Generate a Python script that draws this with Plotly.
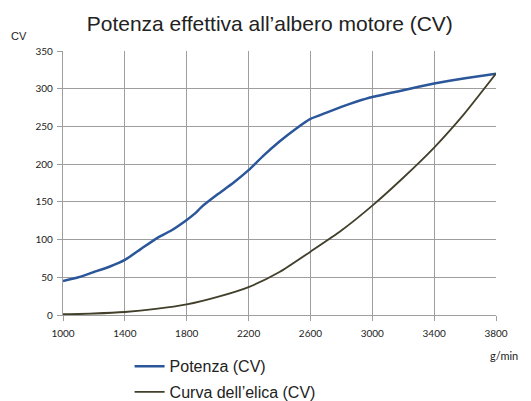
import plotly.graph_objects as go

rpm_p = [1000, 1100, 1200, 1300, 1400, 1500, 1600, 1700, 1800, 1850, 1900, 2000, 2100, 2200,
         2300, 2400, 2500, 2600, 2700, 2800, 2900, 3000, 3200, 3400, 3600, 3800]
potenza = [45, 50, 57, 64, 73, 87, 101, 112, 126, 134, 144, 160, 175, 192,
           212, 230, 246, 260, 268, 276, 283, 289, 298, 307, 314, 320]

rpm_e = [1000, 1200, 1400, 1600, 1800, 2000, 2200, 2400, 2600, 2800, 3000, 3200, 3400, 3600, 3800]
elica = [1, 2, 4, 8, 14, 24, 37, 57, 84, 112, 145, 182, 222, 268, 320]

x_ticks = [1000, 1400, 1800, 2200, 2600, 3000, 3400, 3800]
y_ticks = [0, 50, 100, 150, 200, 250, 300, 350]

fig = go.Figure()
fig.add_trace(go.Scatter(x=rpm_p, y=potenza, mode="lines", name="Potenza (CV)",
                         legendgroup="a",
                         line=dict(color="#2B579A", width=2.5, shape="spline", smoothing=0.4)))
fig.add_trace(go.Scatter(x=rpm_e, y=elica, mode="lines", name="Curva dell\u2019elica (CV)",
                         legendgroup="b",
                         line=dict(color="#423F2B", width=1.8, shape="spline", smoothing=0.6)))

grid = "#9E9E9E"
tickfont = dict(family="Lato, Liberation Sans, sans-serif", size=10, color="#222222")
fig.update_layout(
    width=531, height=401,
    margin=dict(l=55, r=43, t=43, b=94, autoexpand=False),
    paper_bgcolor="white", plot_bgcolor="white",
    title=dict(text="Potenza effettiva all\u2019albero motore (CV)",
               font=dict(family="Liberation Sans, Arial, sans-serif", size=21, color="#222222"),
               x=0.493, xanchor="center", y=0.962, yanchor="middle"),
    showlegend=True,
    legend=dict(xref="container", yref="container", x=0.229, xanchor="left",
                y=0.149, yanchor="top",
                font=dict(family="Liberation Sans, Arial, sans-serif", size=16, color="#222222"),
                tracegroupgap=2, itemwidth=30, bgcolor="rgba(0,0,0,0)"),
    xaxis=dict(range=[1000, 3800], tickvals=x_ticks, ticktext=[str(v) for v in x_ticks],
               showgrid=True, gridcolor=grid, gridwidth=1.3,
               showline=True, linecolor=grid, linewidth=1.3,
               ticks="outside", ticklen=5, tickcolor=grid, tickwidth=1.3,
               ticklabelstandoff=4,
               tickfont=tickfont, zeroline=False, mirror=False),
    yaxis=dict(range=[0, 350], tickvals=y_ticks,
               showgrid=True, gridcolor=grid, gridwidth=1.3,
               showline=True, linecolor=grid, linewidth=1.3,
               ticks="outside", ticklen=5, tickcolor=grid, tickwidth=1.3,
               ticklabelstandoff=2,
               tickfont=tickfont, zeroline=False),
    annotations=[
        dict(text="CV", xref="paper", yref="paper", x=-0.125, y=1.057, xanchor="left",
             yanchor="middle", showarrow=False,
             font=dict(family="Liberation Sans, Arial, sans-serif", size=11, color="#222222")),
        dict(text="g/min", xref="paper", yref="paper", x=1.056, y=-0.152, xanchor="right",
             yanchor="middle", showarrow=False,
             font=dict(family="Lato, Liberation Sans, sans-serif", size=11, color="#222222")),
    ],
)

fig.write_html("out.html")
